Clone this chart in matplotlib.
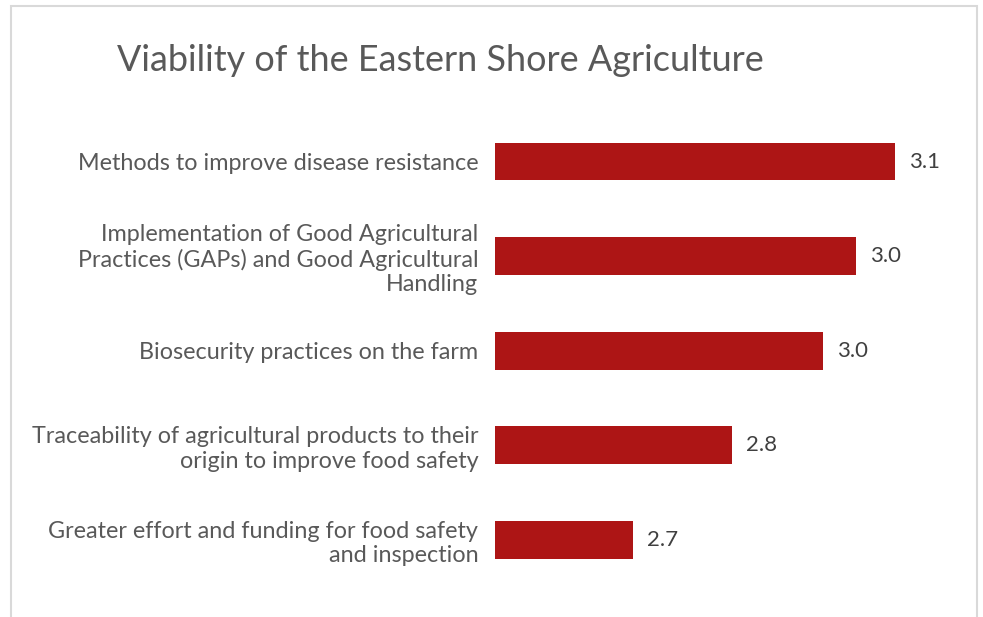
import matplotlib
matplotlib.use("Agg")
import matplotlib.pyplot as plt
from matplotlib.patches import Rectangle

categories = [
    "Methods to improve disease resistance",
    "Implementation of Good Agricultural\nPractices (GAPs) and Good Agricultural\nHandling",
    "Biosecurity practices on the farm",
    "Traceability of agricultural products to their\norigin to improve food safety",
    "Greater effort and funding for food safety\nand inspection",
]
values = [3.063, 3.008, 2.962, 2.834, 2.694]
title = "Viability of the Eastern Shore Agriculture"

W, H = 983, 617
plt.rcParams["font.family"] = ["Lato", "DejaVu Sans"]
fig = plt.figure(figsize=(W / 100, H / 100), dpi=100)
fig.patch.set_facecolor("white")

# chart-area border (open at the bottom edge)
fig.add_artist(Rectangle((11 / W, -0.05), (977 - 11) / W, 1.05 - 6 / H,
                         transform=fig.transFigure, fill=False,
                         edgecolor="#d9d9d9", linewidth=1.5))

x0, x1 = 2.5, 3.15
left_px, right_px = 495, 495 + (x1 - x0) * 710
top_px, bot_px = 114.2, 587.2
ax = fig.add_axes([left_px / W, 1 - bot_px / H,
                   (right_px - left_px) / W, (bot_px - top_px) / H])

ypos = list(range(len(categories)))
ax.barh(ypos, [v - x0 for v in values], left=x0, height=0.4,
        color="#ad1515", edgecolor="none")
ax.set_xlim(x0, x1)
ax.set_ylim(len(categories) - 0.5, -0.5)

for y, v in zip(ypos, values):
    ax.annotate(f"{v:.1f}", xy=(v, y), xytext=(10, 0), textcoords="offset points",
                ha="left", va="center", fontsize=16, color="#404040")

ax.set_yticks(ypos)
ax.set_yticklabels(categories, fontsize=16.8, color="#595959", linespacing=1.2,
                   ha="right")
ax.tick_params(axis="y", length=0, pad=12)
ax.set_xticks([])
for s in ax.spines.values():
    s.set_visible(False)

fig.text(117 / W, 1 - 71 / H, title, fontsize=25.9, color="#595959",
         ha="left", va="baseline")

fig.savefig("out.png", dpi=100, facecolor="white")
